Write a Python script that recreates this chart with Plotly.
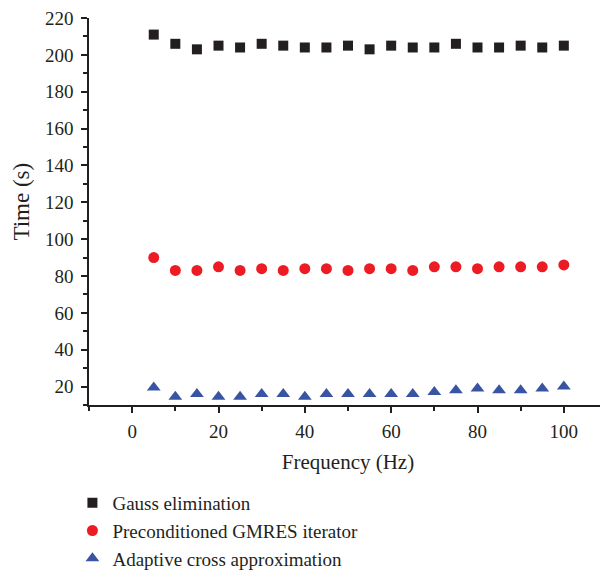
import plotly.graph_objects as go

freq = [5, 10, 15, 20, 25, 30, 35, 40, 45, 50, 55, 60, 65, 70, 75, 80, 85, 90, 95, 100]
gauss = [211, 206, 203, 205, 204, 206, 205, 204, 204, 205, 203, 205, 204, 204, 206, 204, 204, 205, 204, 205]
gmres = [90, 83, 83, 85, 83, 84, 83, 84, 84, 83, 84, 84, 83, 85, 85, 84, 85, 85, 85, 86]
aca = [19.5, 14.5, 16, 14.5, 14.5, 16, 16, 14.5, 16, 16, 16, 16, 16, 17, 18, 19, 18, 18, 19, 20]

names = ["Gauss elimination", "Preconditioned GMRES iterator", "Adaptive cross approximation"]
colors = ["#231f20", "#ed1c24", "#3a54a4"]
symbols = ["square", "circle", "triangle-up"]
sizes = [10, 11, 12]

FONT = "Liberation Serif"

fig = go.Figure()
for i, ys in enumerate([gauss, gmres, aca]):
    fig.add_trace(go.Scatter(
        x=freq, y=ys, mode="markers", name=names[i],
        marker=dict(symbol=symbols[i], size=sizes[i], color=colors[i], line=dict(width=0)),
    ))

fig.update_layout(
    width=600, height=564,
    margin=dict(l=81, r=1, t=10, b=167, autoexpand=False),
    paper_bgcolor="white", plot_bgcolor="white",
    font=dict(family=FONT, size=19, color="#231f20"),
    showlegend=True,
    legend=dict(x=-0.032, y=-0.204, xanchor="left", yanchor="top",
                font=dict(family=FONT, size=19, color="#231f20"),
                bgcolor="rgba(0,0,0,0)"),
    xaxis=dict(range=[-10, 110], tickmode="array", tickvals=[0, 20, 40, 60, 80, 100],
               showgrid=False, zeroline=False, showline=True, linecolor="#231f20", linewidth=1.5,
               ticks="outside", ticklen=6, tickwidth=1.5, tickcolor="#231f20",
               ticklabelstandoff=2, ticklabeloverflow="allow",
               minor=dict(tickvals=[-10, 10, 30, 50, 70, 90, 110], ticks="outside", ticklen=4,
                          tickwidth=1.5, tickcolor="#231f20"),
               title=dict(text="Frequency (Hz)", font=dict(size=21), standoff=14)),
    yaxis=dict(range=[10, 220], tickmode="array", tickvals=list(range(20, 221, 20)),
               showgrid=False, zeroline=False, showline=True, linecolor="#231f20", linewidth=1.5,
               ticks="outside", ticklen=6, tickwidth=1.5, tickcolor="#231f20",
               ticklabelstandoff=4, ticklabeloverflow="allow",
               minor=dict(tickvals=list(range(10, 221, 20)), ticks="outside", ticklen=4,
                          tickwidth=1.5, tickcolor="#231f20")),
    annotations=[dict(text="Time (s)", textangle=-90, xref="paper", yref="paper",
                      x=-0.131, y=0.526, xanchor="center", yanchor="middle",
                      showarrow=False, font=dict(family=FONT, size=23, color="#231f20"))],
)

fig.write_html("out.html")
